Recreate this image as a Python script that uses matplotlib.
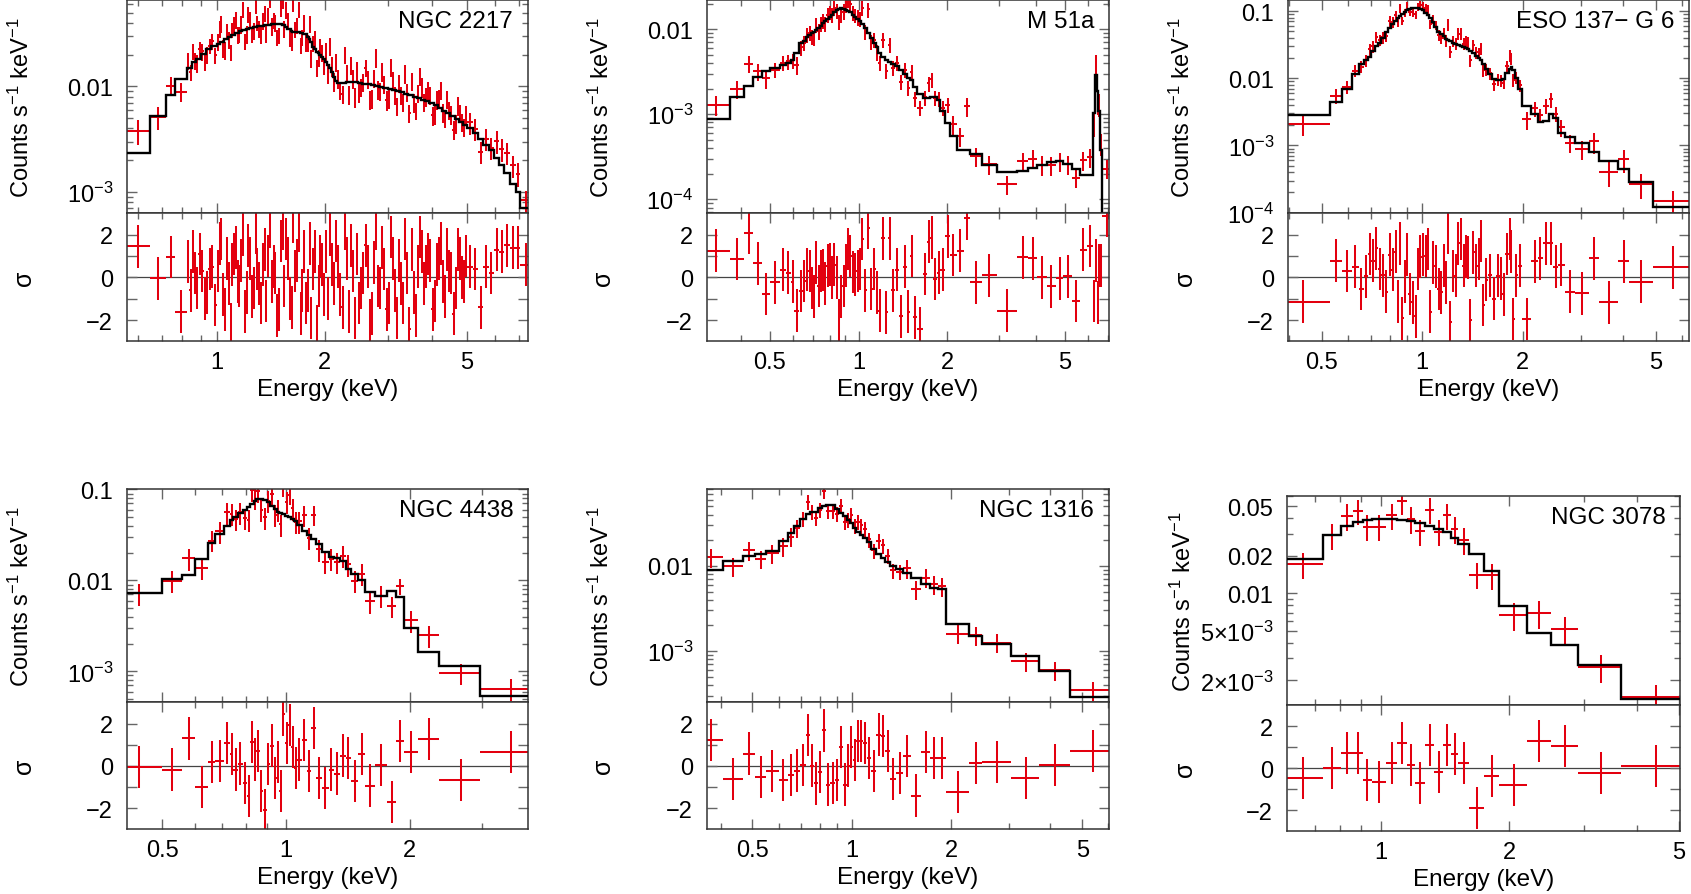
import numpy as np
import matplotlib
matplotlib.use("Agg")
import matplotlib.pyplot as plt
from matplotlib.ticker import FixedLocator, FixedFormatter, NullFormatter, LogLocator

plt.rcParams.update({'font.family': ['Liberation Sans', 'DejaVu Sans']})
plt.rcParams.update({'font.size': 17})
plt.rcParams.update({'mathtext.fontset': 'custom'})
plt.rcParams.update({'mathtext.rm': 'Liberation Sans'})
plt.rcParams.update({'mathtext.it': 'Liberation Sans:italic'})
plt.rcParams.update({'mathtext.bf': 'Liberation Sans:bold'})

# ---------------- NGC 2217 ----------------
ngc2217_edges = [0.55, 0.650, 0.720, 0.763, 0.823, 0.836, 0.850, 0.861, 0.873, 0.887,
                 0.902, 0.917, 0.932, 0.946, 0.960, 0.979, 0.998, 1.010, 1.022, 1.034,
                 1.047, 1.059, 1.071, 1.084, 1.097, 1.110, 1.123, 1.135, 1.148, 1.162,
                 1.176, 1.189, 1.202, 1.216, 1.231, 1.245, 1.259, 1.274, 1.290, 1.304,
                 1.319, 1.335, 1.351, 1.366, 1.381, 1.397, 1.414, 1.431, 1.448, 1.464,
                 1.480, 1.498, 1.516, 1.533, 1.550, 1.569, 1.588, 1.606, 1.624, 1.643,
                 1.663, 1.682, 1.701, 1.721, 1.742, 1.761, 1.781, 1.802, 1.824, 1.844,
                 1.865, 1.888, 1.911, 1.932, 1.954, 1.977, 2.000, 2.027, 2.055, 2.082,
                 2.110, 2.139, 2.169, 2.198, 2.227, 2.258, 2.289, 2.319, 2.350, 2.383,
                 2.416, 2.448, 2.480, 2.515, 2.550, 2.583, 2.617, 2.654, 2.691, 2.726,
                 2.762, 2.801, 2.840, 2.877, 2.915, 2.956, 2.997, 3.037, 3.077, 3.120,
                 3.163, 3.205, 3.247, 3.292, 3.338, 3.382, 3.427, 3.475, 3.523, 3.570,
                 3.617, 3.667, 3.718, 3.767, 3.817, 3.870, 3.924, 3.976, 4.029, 4.085,
                 4.141, 4.196, 4.252, 4.311, 4.370, 4.429, 4.488, 4.550, 4.612, 4.674,
                 4.736, 4.802, 4.868, 4.934, 5.000, 5.18, 5.36, 5.55, 5.75, 5.95,
                 6.15, 6.35, 6.60, 6.85, 7.05, 7.60]
ngc2217_model = [0.00236, 0.00519, 0.00821, 0.0118,
                 0.0151, 0.0151, 0.0169, 0.0169, 0.0181, 0.0181, 0.0203, 0.0203, 0.0225, 0.0225,
                 0.0243, 0.0243, 0.0250, 0.0250, 0.0265, 0.0265, 0.0280, 0.0280, 0.0294, 0.0294,
                 0.0308, 0.0308, 0.0322, 0.0322, 0.0334, 0.0334, 0.0345, 0.0345, 0.0353, 0.0353,
                 0.0360, 0.0360, 0.0366, 0.0366, 0.0371, 0.0371, 0.0376, 0.0376, 0.0380, 0.0380,
                 0.0384, 0.0384, 0.0387, 0.0387, 0.0388, 0.0388, 0.0387, 0.0387, 0.0380, 0.0380,
                 0.0370, 0.0353, 0.0347, 0.0336, 0.0330, 0.0330, 0.0326, 0.0326, 0.0323, 0.0323,
                 0.0316, 0.0316, 0.0296, 0.0280, 0.0262, 0.0238, 0.0228, 0.0214, 0.0206, 0.0198,
                 0.0190, 0.0180, 0.0170, 0.0158, 0.0151, 0.0137, 0.0124, 0.0112, 0.0107, 0.0107,
                 0.0108, 0.0108, 0.0110, 0.0110, 0.0111, 0.0111, 0.0110, 0.0110, 0.0108, 0.0108,
                 0.0106, 0.0106, 0.0105, 0.0105, 0.0103, 0.0103, 0.0101, 0.0101, 0.0099, 0.0099,
                 0.0097, 0.0097, 0.0095, 0.0095, 0.0093, 0.0093, 0.0090, 0.0090, 0.0088, 0.0088,
                 0.0085, 0.0085, 0.0083, 0.0083, 0.0080, 0.0080, 0.0078, 0.0078, 0.0075, 0.0075,
                 0.0072, 0.0072, 0.0069, 0.0069, 0.0066, 0.0066, 0.0063, 0.0063, 0.0059, 0.0059,
                 0.0056, 0.0056, 0.0052, 0.0052, 0.0049, 0.0049, 0.0046, 0.0046, 0.0043, 0.0043,
                 0.0040, 0.0036, 0.0032, 0.0028, 0.0025, 0.0021, 0.0018, 0.00150, 0.00118, 0.00099,
                 0.00071]
ngc2217_rate = [0.00379, 0.00513, 0.01014, 0.00894,
                0.01746, 0.01363, 0.02156, 0.01753, 0.0166, 0.02257, 0.02146, 0.0172, 0.01998, 0.02425,
                0.0267, 0.01969, 0.0264, 0.0351, 0.0392, 0.02316, 0.0220, 0.0334, 0.0279, 0.02106,
                0.0345, 0.0384, 0.0430, 0.0311, 0.0312, 0.0390, 0.0539, 0.0268, 0.0313, 0.0484,
                0.0430, 0.0310, 0.0336, 0.0588, 0.0400, 0.0352, 0.0309, 0.0422, 0.0496, 0.0317,
                0.0468, 0.0676, 0.0374, 0.0425, 0.0402, 0.0293, 0.0305, 0.0558, 0.0648, 0.0354,
                0.0536, 0.0421, 0.0290, 0.0268, 0.0620, 0.0349, 0.0381, 0.0540, 0.0247, 0.0292,
                0.0403, 0.0260, 0.0260, 0.0393, 0.0186, 0.0256, 0.0283, 0.0151, 0.0188, 0.0241,
                0.0209, 0.0157, 0.0217, 0.0132, 0.0242, 0.0156, 0.0111, 0.0170, 0.0119, 0.00922,
                0.00844, 0.0200, 0.0134, 0.00833, 0.0159, 0.0118, 0.00797, 0.0141, 0.00871, 0.00982,
                0.0110, 0.0151, 0.0117, 0.0075, 0.00769, 0.0120, 0.0187, 0.00935, 0.0090, 0.01375,
                0.01054, 0.00746, 0.00766, 0.01532, 0.01134, 0.0083, 0.00652, 0.01071, 0.0083, 0.0071,
                0.0133, 0.00885, 0.00561, 0.01122, 0.00702, 0.00588, 0.00867, 0.01258, 0.00987, 0.00708,
                0.0080, 0.00923, 0.00821, 0.00531, 0.00541, 0.0075, 0.00768, 0.00926, 0.00567, 0.0050,
                0.00757, 0.00596, 0.00542, 0.00388, 0.00445, 0.00662, 0.00561, 0.0046, 0.00413, 0.00538,
                0.00455, 0.00398, 0.0024, 0.00318, 0.00263, 0.00305, 0.00253, 0.00234, 0.00178, 0.00149,
                0.00083]
ngc2217_frac = [0.26, 0.24, 0.20, 0.20,
                0.18, 0.18, 0.18, 0.19, 0.19, 0.18, 0.18, 0.18, 0.18, 0.17, 0.17, 0.18,
                0.18, 0.18, 0.18, 0.19, 0.19, 0.18, 0.18, 0.18, 0.17, 0.18, 0.18, 0.18,
                0.18, 0.19, 0.18, 0.18, 0.19, 0.18, 0.18, 0.17, 0.18, 0.18, 0.17, 0.18,
                0.18, 0.18, 0.18, 0.19, 0.18, 0.18, 0.19, 0.18, 0.18, 0.17, 0.18, 0.18,
                0.17, 0.18, 0.18, 0.18, 0.18, 0.19, 0.18, 0.18, 0.18, 0.18, 0.17, 0.18,
                0.18, 0.18, 0.18, 0.19, 0.19, 0.18, 0.18, 0.18, 0.18, 0.17, 0.18, 0.18,
                0.20, 0.20, 0.20, 0.21, 0.21, 0.20, 0.20, 0.20, 0.20, 0.19, 0.19, 0.20,
                0.20, 0.20, 0.21, 0.20, 0.20, 0.20, 0.20, 0.19, 0.20, 0.20, 0.21, 0.20,
                0.20, 0.20, 0.19, 0.20, 0.20, 0.21, 0.20, 0.20, 0.20, 0.20, 0.19, 0.20,
                0.20, 0.20, 0.21, 0.20, 0.20, 0.20, 0.20, 0.19, 0.20, 0.20, 0.21, 0.20,
                0.20, 0.20, 0.19, 0.20, 0.20, 0.21, 0.20, 0.20, 0.20, 0.20, 0.19, 0.20,
                0.20, 0.20, 0.20, 0.20, 0.20, 0.20, 0.20, 0.20,
                0.24, 0.24, 0.23, 0.24, 0.24, 0.25, 0.24, 0.24, 0.24, 0.25, 0.24]
ngc2217_resid = [1.45, -0.05, 0.95, -1.6,
                 0.75, -0.6, 1.2, 0.2, -0.5, 1.1, 0.3, -1.0, -0.7, 0.4,
                 0.5, -1.3, 0.3, 1.6, 1.8, -0.8, -1.5, 0.9, -0.3, -2.2,
                 0.6, 1.1, 1.4, -0.2, -0.4, 0.8, 2.0, -1.6, -0.7, 1.5,
                 0.9, -0.9, -0.5, 2.1, 0.4, -0.3, -1.2, 0.6, 1.3, -1.1,
                 1.0, 2.4, -0.2, 0.5, 0.2, -1.8, -1.5, 1.7, 2.3, -0.4,
                 1.8, 0.9, -1.0, -1.4, 2.6, 0.3, 0.8, 2.2, -1.7, -0.6,
                 1.2, -1.2, -0.6, 1.6, -1.9, 0.4, 1.2, -2.3, -0.4, 1.0,
                 0.6, -0.8, 1.2, -1.0, 2.0, 0.6, -0.3, 1.7, 0.5, -0.8,
                 -1.4, 2.3, 0.9, -1.6, 1.5, 0.3, -1.9, 1.1, -1.2, -0.5,
                 0.2, 1.5, 0.5, -2.0, -1.7, 0.7, 2.3, -0.4, -0.5, 1.4,
                 0.4, -1.5, -1.2, 1.9, 0.9, -0.6, -1.9, 0.8, -0.3, -1.2,
                 1.8, 0.2, -2.4, 1.3, -0.7, -1.8, 0.5, 1.9, 1.2, -0.3,
                 0.5, 1.1, 0.8, -1.5, -1.1, 0.6, 0.9, 1.6, -0.2, -0.9,
                 1.3, 0.3, 0.2, -1.7, -0.5, 1.3, 0.9, 0.0, -0.2, 1.0,
                 0.5, 0.4, -1.4, 0.5, 0.2, 1.3, 1.2, 1.5, 1.4, 1.4,
                 0.6]

# ---------------- M 51a ----------------
m51_edges = [0.29, 0.366, 0.409, 0.439, 0.469, 0.500, 0.541, 0.567, 0.588, 0.606, 0.629,
             0.646, 0.662, 0.675, 0.688, 0.700, 0.712, 0.725, 0.738, 0.751, 0.764, 0.778,
             0.792, 0.806, 0.820, 0.835, 0.850, 0.865, 0.881, 0.897, 0.913, 0.930, 0.947,
             0.965, 0.982, 1.002, 1.020, 1.040, 1.065, 1.093, 1.118, 1.142, 1.168, 1.195,
             1.225, 1.258, 1.288, 1.325, 1.370, 1.415, 1.456, 1.494, 1.534, 1.580, 1.648,
             1.708, 1.752, 1.792, 1.840, 1.895, 1.965, 2.042, 2.150, 2.270, 2.388, 2.616,
             2.942, 3.44, 3.765, 4.02, 4.35, 4.67, 4.95, 5.29, 5.64, 5.94, 6.23, 6.33,
             6.43, 6.50, 6.58, 6.72, 7.20]
m51_model = [8.7e-4, 1.58e-3, 2.17e-3, 2.71e-3, 3.19e-3, 3.50e-3, 3.75e-3, 4.00e-3, 4.37e-3, 5.24e-3,
             6.86e-3, 7.17e-3, 8.0e-3, 8.5e-3, 8.9e-3, 9.3e-3, 9.7e-3, 0.0103, 0.0110, 0.0117,
             0.0124, 0.0131, 0.0139, 0.0148, 0.0157, 0.0166, 0.0173, 0.0176, 0.0174, 0.0170,
             0.0164, 0.0157, 0.0148, 0.0140, 0.0131, 0.0123, 0.0114, 0.0104, 0.0091, 0.0079,
             0.0069, 0.0061, 0.0053, 0.0047, 0.0043, 0.0041, 0.0039, 0.0037, 0.0033, 0.0030,
             0.0027, 0.0025, 0.0021, 0.00175, 0.00153, 0.00154, 0.00160, 0.00160, 0.00145, 0.00110,
             0.00079, 0.00056, 0.00038, 0.00038, 0.00034, 0.000255, 0.00021, 0.000214, 0.000236, 0.000255,
             0.000275, 0.000285, 0.00026, 0.00023, 0.000195, 0.000195, 0.00104, 0.00292, 0.00187, 0.00110,
             0.00038, 0.000064]
m51_rate = [1.29e-3, 1.98e-3, 3.93e-3, 3.19e-3, 2.67e-3, 3.35e-3, 4.04e-3, 4.19e-3, 4.2e-3, 3.81e-3,
            6.09e-3, 6.95e-3, 8.62e-3, 9.04e-3, 8.09e-3, 7.88e-3, 0.01128, 9.54e-3, 0.0117, 0.0126,
            0.0117, 0.0147, 0.0158, 0.0148, 0.0178, 0.0166, 0.01236, 0.0149, 0.0161, 0.0191,
            0.0223, 0.0196, 0.0156, 0.0144, 0.0139, 0.0134, 0.0178, 9.29e-3, 0.0171, 7.12e-3,
            7.5e-3, 5.35e-3, 4.04e-3, 7.44e-3, 3.24e-3, 6.49e-3, 3.48e-3, 3.99e-3, 2.42e-3, 3.33e-3,
            2.05e-3, 3.13e-3, 1.53e-3, 1.18e-3, 1.58e-3, 2.31e-3, 2.56e-3, 1.57e-3, 1.52e-3, 1.19e-3,
            1.28e-3, 7.6e-4, 5.5e-4, 1.24e-3, 3.2e-4, 2.6e-4, 1.5e-4, 2.8e-4, 3.0e-4, 2.55e-4,
            2.5e-4, 2.8e-4, 2.6e-4, 1.8e-4, 2.9e-4, 3.1e-4, 7.8e-4, 3.84e-3, 1.39e-3, 1.32e-3,
            4.55e-4, 2.3e-4]
m51_frac = [0.27, 0.24, 0.22, 0.23, 0.25, 0.20, 0.20, 0.20, 0.20, 0.24,
            0.20, 0.20, 0.20, 0.19, 0.20, 0.20, 0.20, 0.21, 0.20, 0.20,
            0.20, 0.20, 0.19, 0.20, 0.20, 0.20, 0.20, 0.20, 0.21, 0.20,
            0.20, 0.20, 0.20, 0.19, 0.22, 0.20, 0.20, 0.20, 0.20, 0.20,
            0.20, 0.21, 0.20, 0.20, 0.20, 0.20, 0.20, 0.20, 0.20, 0.20,
            0.20, 0.20, 0.20, 0.20, 0.20, 0.20, 0.20, 0.20, 0.20, 0.20,
            0.20, 0.25, 0.25, 0.25, 0.26, 0.25, 0.25, 0.25, 0.25, 0.26,
            0.25, 0.25, 0.25, 0.25, 0.25, 0.25, 0.30, 0.30, 0.30, 0.30,
            0.30, 0.25]
m51_resid = [1.25, 0.86, 2.08, 0.66, -0.78, -0.23, 0.36, 0.23, -0.2, -1.56,
             -0.63, -0.16, 0.36, 0.3, -0.5, -0.9, 0.7, -0.4, 0.3, 0.35,
             -0.3, 0.55, 0.6, 0.0, 0.6, 0.0, -2.0, -0.9, -0.4, 0.55,
             1.33, 1.0, 0.25, 0.15, 0.3, 0.4, 1.8, -0.6, 2.34, -0.55,
             0.4, -0.7, -1.56, 1.84, -1.64, 1.84, -0.6, 0.36, -1.83, 0.5,
             -1.6, 1.0, -1.87, -2.4, 0.16, 1.67, 1.87, -0.08, 0.23, 0.36,
             1.92, 1.05, 1.25, 2.77, -0.23, 0.1, -1.56, 0.94, 0.89, 0.0,
             -0.42, -0.05, 0.05, -1.1, 1.3, 1.48, -1.1, 0.8, -1.17, 0.55,
             0.55, 2.9]

# ---------------- ESO 137-G 6 ----------------
eso_edges = [0.35, 0.528, 0.573, 0.614, 0.645, 0.670, 0.690, 0.704, 0.720, 0.737,
             0.754, 0.772, 0.790, 0.808, 0.825, 0.840, 0.853, 0.866, 0.879, 0.893,
             0.908, 0.927, 0.947, 0.963, 0.979, 0.996, 1.014, 1.032, 1.048, 1.066,
             1.086, 1.109, 1.131, 1.150, 1.170, 1.187, 1.204, 1.225, 1.248, 1.269,
             1.294, 1.320, 1.343, 1.362, 1.382, 1.405, 1.435, 1.468, 1.494, 1.510,
             1.537, 1.573, 1.620, 1.668, 1.707, 1.736, 1.776, 1.818, 1.839, 1.860,
             1.892, 1.935, 1.990, 2.12, 2.22, 2.30, 2.39, 2.47, 2.55, 2.67,
             2.87, 3.17, 3.39, 3.85, 4.17, 4.90, 6.40]
eso_model = [2.82e-3, 4.45e-3, 6.87e-3, 0.0117, 0.0165, 0.0185, 0.0210, 0.0254, 0.030, 0.034,
             0.040, 0.048, 0.0565, 0.064, 0.072, 0.078, 0.085, 0.091, 0.097, 0.102,
             0.107, 0.111, 0.112, 0.111, 0.107, 0.103, 0.095, 0.086, 0.078, 0.068,
             0.057, 0.049, 0.045, 0.042, 0.0388, 0.0370, 0.0355, 0.0340, 0.0327, 0.0315,
             0.0300, 0.0290, 0.0285, 0.0275, 0.0258, 0.0240, 0.0215, 0.0197, 0.0185, 0.0165,
             0.0138, 0.0117, 0.0099, 0.0094, 0.0095, 0.0099, 0.0118, 0.0138, 0.0149, 0.0132,
             0.0100, 0.0070, 0.00388, 0.00292, 0.00220, 0.00232, 0.00292, 0.00260, 0.00156, 0.00132,
             0.00109, 0.00079, 0.00059, 0.000446, 0.00029, 0.00012]
eso_rate = [2.07e-3, 5.53e-3, 7.36e-3, 0.0130, 0.01486, 0.0187, 0.0269, 0.0301, 0.0413, 0.0370,
            0.0408, 0.0423, 0.0717, 0.069, 0.0865, 0.0672, 0.1095, 0.0717, 0.0944, 0.1197,
            0.0965, 0.0954, 0.0892, 0.1175, 0.124, 0.1209, 0.1105, 0.1057, 0.0637, 0.0754,
            0.0615, 0.0441, 0.0395, 0.0472, 0.0371, 0.0638, 0.0250, 0.0362, 0.0332, 0.0463,
            0.0469, 0.0326, 0.0354, 0.0339, 0.0184, 0.0313, 0.0242, 0.0238, 0.0280, 0.0131,
            0.0135, 0.0119, 0.00825, 0.00955, 0.0094, 0.00853, 0.0151, 0.0216, 0.0196, 0.0095,
            0.0102, 0.00787, 0.00245, 0.00359, 0.00284, 0.00387, 0.00487, 0.00297, 0.00188, 0.0011,
            0.00088, 0.00115, 0.0004, 0.000624, 0.000269, 0.000148]
eso_frac = [0.32, 0.25, 0.22, 0.20, 0.20, 0.20, 0.19, 0.20, 0.20, 0.19,
            0.20, 0.19, 0.18, 0.18, 0.14, 0.14, 0.15, 0.14, 0.14, 0.14,
            0.14, 0.15, 0.14, 0.14, 0.14, 0.14, 0.14, 0.15, 0.14, 0.14,
            0.14, 0.20, 0.19, 0.20, 0.20, 0.20, 0.20, 0.19, 0.20, 0.20,
            0.20, 0.20, 0.20, 0.20, 0.19, 0.20, 0.20, 0.20, 0.20, 0.20,
            0.20, 0.20, 0.21, 0.20, 0.20, 0.20, 0.20, 0.20, 0.20, 0.21,
            0.20, 0.20, 0.30, 0.25, 0.25, 0.25, 0.25, 0.25, 0.28, 0.30,
            0.32, 0.35, 0.40, 0.38, 0.40, 0.40]
eso_resid = [-1.14, 0.78, 0.3, 0.5, -0.55, 0.05, 1.1, 0.78, 1.37, 0.4,
             0.1, -0.67, 1.06, 0.36, 1.2, -1.14, 1.6, -1.92, -0.2, 1.06,
             -0.78, -1.17, -1.83, 0.39, 0.98, 1.06, 1.0, 1.33, -1.6, 0.7,
             0.52, -0.55, -0.7, 0.55, -0.23, 2.1, -2.1, 0.3, 0.08, 1.6,
             1.8, 0.55, 0.98, 0.94, -2.0, 1.17, 0.55, 0.86, 1.7, -1.3,
             -0.1, 0.1, -1.0, 0.08, -0.05, -0.8, 1.1, 1.8, 1.2, -1.95,
             0.1, 0.55, -1.95, 0.75, 0.9, 1.6, 1.6, 0.5, 0.6, -0.67,
             -0.75, 0.9, -1.17, 0.75, -0.2, 0.47]

# ---------------- NGC 4438 ----------------
ngc4438_edges = [0.38, 0.500, 0.558, 0.603, 0.646, 0.674, 0.707, 0.731, 0.745, 0.765,
                 0.786, 0.805, 0.820, 0.835, 0.848, 0.864, 0.881, 0.898, 0.917, 0.935,
                 0.951, 0.965, 0.978, 0.995, 1.013, 1.031, 1.047, 1.065, 1.093, 1.126,
                 1.153, 1.183, 1.222, 1.270, 1.312, 1.357, 1.400, 1.440, 1.500, 1.556,
                 1.649, 1.764, 1.856, 1.942, 2.098, 2.355, 2.966, 4.10]
ngc4438_model = [7.3e-3, 0.0104, 0.0114, 0.0173, 0.0260, 0.0327, 0.0397, 0.0458, 0.0499, 0.0545,
                 0.0590, 0.0640, 0.0690, 0.0740, 0.0780, 0.0790, 0.0770, 0.0730, 0.0660, 0.0610,
                 0.0570, 0.0545, 0.0530, 0.0515, 0.0495, 0.0475, 0.0450, 0.0410, 0.0350, 0.0315,
                 0.0288, 0.0254, 0.0205, 0.0180, 0.0176, 0.0162, 0.0135, 0.0118, 0.0100, 0.0074,
                 0.0067, 0.0076, 0.0066, 0.0030, 0.00162, 0.00113, 0.00053]
ngc4438_rate = [7.18e-3, 9.94e-3, 0.01757, 0.01368, 0.0274, 0.0348, 0.0562, 0.0541, 0.0477, 0.0562,
                0.0485, 0.0462, 0.0989, 0.0805, 0.0968, 0.0597, 0.0492, 0.075, 0.0891, 0.0529,
                0.0601, 0.0412, 0.103, 0.0729, 0.0864, 0.0623, 0.0439, 0.0446, 0.0526, 0.0295,
                0.0524, 0.022, 0.016, 0.0172, 0.016, 0.0187, 0.01495, 0.00988, 0.0118, 0.00592,
                0.00679, 0.00522, 0.0086, 0.00364, 0.00248, 0.00096, 0.000645]
ngc4438_frac = [0.27, 0.27, 0.27, 0.27, 0.26, 0.27, 0.27, 0.27, 0.26, 0.27,
                0.27, 0.27, 0.27, 0.26, 0.27, 0.27, 0.27, 0.27, 0.26, 0.27,
                0.27, 0.27, 0.20, 0.27, 0.22, 0.27, 0.27, 0.27, 0.26, 0.27,
                0.25, 0.27, 0.27, 0.27, 0.26, 0.27, 0.27, 0.27, 0.27, 0.27,
                0.27, 0.27, 0.20, 0.27, 0.27, 0.26, 0.27]
ngc4438_resid = [-0.06, -0.17, 1.3, -0.98, 0.19, 0.22, 1.09, 0.57, -0.17, 0.11,
                 -0.8, -1.43, 1.12, 0.3, 0.72, -1.2, -2.09, 0.1, 0.96, -0.57,
                 0.19, -1.2, 2.43, 1.09, 1.94, 0.88, -0.09, 0.3, 1.24, -0.25,
                 1.8, -0.57, -1.04, -0.17, -0.36, 0.49, 0.36, -0.72, 0.57, -0.93,
                 0.05, -1.69, 1.17, 0.65, 1.28, -0.65, 0.66]

# ---------------- NGC 1316 ----------------
ngc1316_edges = [0.34, 0.407, 0.467, 0.510, 0.549, 0.600, 0.640, 0.670, 0.697, 0.726,
                 0.749, 0.770, 0.791, 0.813, 0.834, 0.861, 0.889, 0.912, 0.940, 0.966,
                 0.985, 1.007, 1.033, 1.059, 1.082, 1.109, 1.147, 1.188, 1.227, 1.264,
                 1.309, 1.366, 1.435, 1.510, 1.627, 1.730, 1.830, 1.937, 2.268, 2.486,
                 3.035, 3.707, 4.58, 6.20]
ngc1316_model = [8.9e-3, 0.0115, 0.0131, 0.0137, 0.0150, 0.0197, 0.0246, 0.0296, 0.0354, 0.0405,
                 0.0432, 0.0432, 0.0485, 0.0500, 0.0517, 0.0517, 0.0464, 0.0420, 0.0387, 0.0350,
                 0.0323, 0.0282, 0.0250, 0.0230, 0.0215, 0.0190, 0.0160, 0.0137, 0.0125, 0.0112,
                 0.0100, 0.0091, 0.00835, 0.0072, 0.0061, 0.00555, 0.0053, 0.0021, 0.0015, 0.0012,
                 0.00087, 0.00059, 0.00029]
ngc1316_rate = [0.01276, 0.00998, 0.01532, 0.01212, 0.01412, 0.01695, 0.02216, 0.02806, 0.0356, 0.0570,
                0.0434, 0.0370, 0.0458, 0.0753, 0.0440, 0.0446, 0.0411, 0.0510, 0.0329, 0.0351,
                0.0394, 0.0298, 0.0326, 0.0300, 0.0275, 0.0205, 0.0152, 0.0195, 0.0174, 0.0130,
                0.0089, 0.00854, 0.00946, 0.00533, 0.0073, 0.00613, 0.00582, 0.00161, 0.00155, 0.00126,
                0.00076, 0.0006, 0.00035]
ngc1316_frac = [0.25, 0.25, 0.25, 0.25, 0.25, 0.25, 0.25, 0.25, 0.20, 0.20,
                0.20, 0.20, 0.20, 0.20, 0.20, 0.20, 0.20, 0.20, 0.20, 0.20,
                0.20, 0.20, 0.20, 0.20, 0.20, 0.20, 0.20, 0.20, 0.20, 0.20,
                0.20, 0.20, 0.25, 0.25, 0.25, 0.25, 0.25, 0.25, 0.25, 0.25,
                0.25, 0.25, 0.25]
ngc1316_resid = [1.21, -0.61, 0.58, -0.52, -0.25, -0.65, -0.44, -0.22, 0.03, 1.45,
                 0.02, -0.83, -0.3, 1.68, -0.88, -0.8, -0.65, 0.88, -0.88, 0.02,
                 0.9, 0.27, 1.17, 1.17, 1.09, 0.36, -0.25, 1.48, 1.4, 0.69,
                 -0.61, -0.33, 0.47, -1.4, 0.66, 0.38, 0.36, -1.23, 0.14, 0.2,
                 -0.57, 0.05, 0.69]

# ---------------- NGC 3078 ----------------
ngc3078_edges = [0.58, 0.733, 0.804, 0.862, 0.906, 0.954, 1.030, 1.092, 1.150, 1.200,
                 1.270, 1.334, 1.398, 1.465, 1.520, 1.607, 1.748, 1.899, 2.205, 2.508,
                 2.898, 3.67, 5.20]
ngc3078_model = [0.0189, 0.0291, 0.0345, 0.0372, 0.0386, 0.0395, 0.0395, 0.0390, 0.0380, 0.0365,
                 0.0345, 0.0325, 0.0310, 0.0275, 0.0250, 0.0205, 0.0151, 0.0079, 0.00476, 0.00384,
                 0.00267, 0.00142]
ngc3078_rate = [0.01706, 0.0291, 0.0417, 0.0454, 0.0342, 0.0342, 0.0422, 0.0553, 0.0393, 0.0313,
                0.0469, 0.0312, 0.0421, 0.0328, 0.0267, 0.0141, 0.01396, 0.00667, 0.00692, 0.00517,
                0.00254, 0.00146]
ngc3078_frac = [0.24, 0.24, 0.24, 0.23, 0.24, 0.24, 0.24, 0.24, 0.24, 0.24,
                0.24, 0.24, 0.24, 0.24, 0.24, 0.24, 0.24, 0.25, 0.25, 0.25,
                0.25, 0.25]
ngc3078_resid = [-0.45, 0.0, 0.72, 0.75, -0.53, -0.64, 0.27, 1.23, 0.14, -0.69,
                 1.1, -0.18, 1.1, 0.67, 0.27, -1.89, -0.34, -0.77, 1.3, 1.07,
                 -0.21, 0.11]

RED = '#e3000f'
W, H = 1691, 895
fig = plt.figure(figsize=(W / 100, H / 100), dpi=100)


def box(left, top, right, bottom):
    return [left / W, 1 - bottom / H, (right - left) / W, (bottom - top) / H]


def style(ax):
    ax.tick_params(which='both', direction='in', top=True, right=True, color='#666', width=1.0)
    ax.tick_params(which='major', length=7)
    ax.tick_params(which='minor', length=4)
    ax.tick_params(axis='x', pad=7)
    ax.tick_params(axis='y', pad=10)
    for s in ax.spines.values():
        s.set_color('#333')
        s.set_linewidth(1.1)


def panel(top_px, res_px, name, edges, rate, model, frac, resid, xlim, ylim, yticks, ylabels):
    e = np.asarray(edges)
    lo, hi = e[:-1], e[1:]
    xc = 0.5 * (lo + hi)
    rate = np.asarray(rate)
    err = rate * np.asarray(frac)

    ax = fig.add_axes(box(*top_px))
    axr = fig.add_axes(box(*res_px))
    for a in (ax, axr):
        a.set_xscale('log')
        a.set_xlim(xlim)
        style(a)
        a.xaxis.set_major_locator(FixedLocator([0.5, 1, 2, 5]))
        a.xaxis.set_major_formatter(FixedFormatter(['0.5', '1', '2', '5']))
        a.xaxis.set_minor_locator(FixedLocator([0.3, 0.4, 0.6, 0.7, 0.8, 0.9, 3, 4, 6, 7]))
        a.xaxis.set_minor_formatter(NullFormatter())

    ax.set_yscale('log')
    ax.errorbar(xc, rate, xerr=[xc - lo, hi - xc], yerr=err, fmt='none',
                ecolor=RED, elinewidth=1.45, zorder=2)
    ax.stairs(model, e, baseline=None, color='k', lw=1.7, zorder=3)
    ax.set_ylim(ylim)
    ax.yaxis.set_major_locator(FixedLocator(yticks))
    ax.yaxis.set_major_formatter(FixedFormatter(ylabels))
    ax.yaxis.set_minor_locator(LogLocator(base=10, subs=np.arange(2, 10)))
    ax.yaxis.set_minor_formatter(NullFormatter())
    ax.tick_params(labelbottom=False)
    ax.set_ylabel(r'Counts s$^{-1}$ keV$^{-1}$', fontsize=17)
    ax.yaxis.set_label_coords(-0.232, 0.5)
    ax.text(0.963, 0.9, name, transform=ax.transAxes, ha='right', va='center', fontsize=17.5)

    axr.axhline(0, color='#444', lw=0.9, zorder=1)
    axr.errorbar(xc, resid, xerr=[xc - lo, hi - xc], yerr=1.0, fmt='none',
                 ecolor=RED, elinewidth=1.45, zorder=2)
    axr.set_ylim(-2.98, 3.02)
    axr.yaxis.set_major_locator(FixedLocator([-2, -1, 0, 1, 2]))
    axr.yaxis.set_major_formatter(FixedFormatter(['\u22122', '', '0', '', '2']))
    axr.set_ylabel('\u03c3', fontsize=18)
    axr.yaxis.set_label_coords(-0.228, 0.5)
    axr.set_xlabel('Energy (keV)', fontsize=17.5)
    axr.xaxis.set_label_coords(0.5, -0.29)
    axr.xaxis.label.set_va('top')


dec_labels = {0.1: '0.1', 0.01: '0.01', 1e-3: r'$10^{-3}$', 1e-4: r'$10^{-4}$'}

panel((127, 1, 528, 214), (127, 214, 528, 342), 'NGC 2217',
      ngc2217_edges, ngc2217_rate, ngc2217_model, ngc2217_frac, ngc2217_resid,
      (0.56, 7.4), (6.3e-4, 0.066), [0.01, 1e-3], [dec_labels[0.01], dec_labels[1e-3]])
panel((707, 1, 1109, 214), (707, 214, 1109, 342), 'M 51a',
      m51_edges, m51_rate, m51_model, m51_frac, m51_resid,
      (0.306, 7.07), (6.9e-5, 0.022), [0.01, 1e-3, 1e-4],
      [dec_labels[0.01], dec_labels[1e-3], dec_labels[1e-4]])
panel((1288, 1, 1689, 214), (1288, 214, 1689, 342), 'ESO 137\u2212 G 6',
      eso_edges, eso_rate, eso_model, eso_frac, eso_resid,
      (0.396, 6.3), (0.99e-4, 0.146), [0.1, 0.01, 1e-3, 1e-4],
      [dec_labels[0.1], dec_labels[0.01], dec_labels[1e-3], dec_labels[1e-4]])
panel((127, 490, 528, 703), (127, 703, 528, 830), 'NGC 4438',
      ngc4438_edges, ngc4438_rate, ngc4438_model, ngc4438_frac, ngc4438_resid,
      (0.411, 3.88), (4.6e-4, 0.101), [0.1, 0.01, 1e-3],
      [dec_labels[0.1], dec_labels[0.01], dec_labels[1e-3]])
panel((707, 490, 1109, 703), (707, 703, 1109, 830), 'NGC 1316',
      ngc1316_edges, ngc1316_rate, ngc1316_model, ngc1316_frac, ngc1316_resid,
      (0.364, 6.03), (2.53e-4, 0.08), [0.01, 1e-3],
      [dec_labels[0.01], dec_labels[1e-3]])
panel((1287, 497, 1680, 706), (1287, 706, 1680, 832), 'NGC 3078',
      ngc3078_edges, ngc3078_rate, ngc3078_model, ngc3078_frac, ngc3078_resid,
      (0.602, 5.04), (1.27e-3, 0.0602), [0.05, 0.02, 0.01, 5e-3, 2e-3],
      ['0.05', '0.02', '0.01', '5\u00d710$^{-3}$', '2\u00d710$^{-3}$'])

fig.savefig('out.png', dpi=100)
